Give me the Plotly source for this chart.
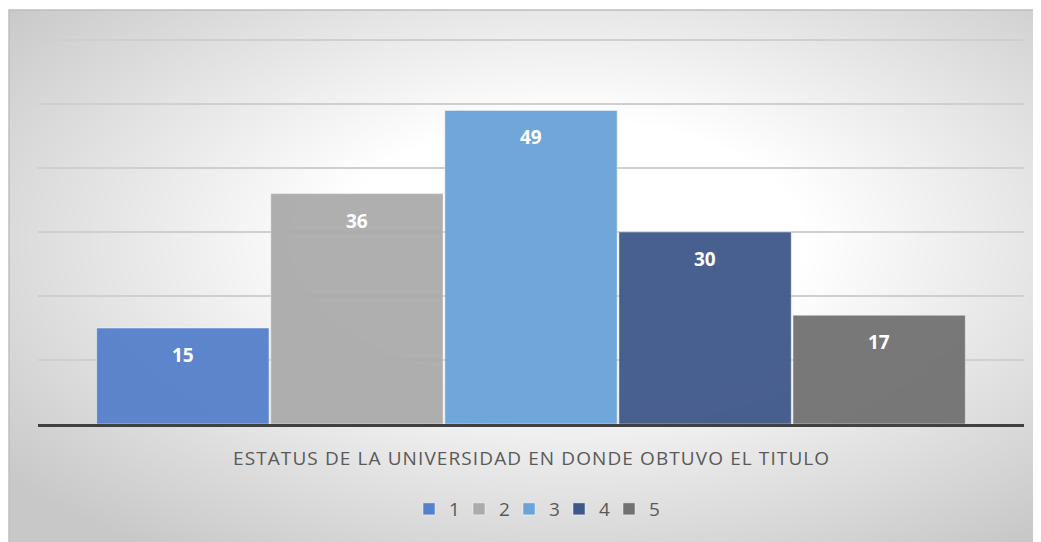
import plotly.graph_objects as go
import zlib, struct, base64, math

# ---- data ----
series_names = ["1", "2", "3", "4", "5"]
values = [15, 36, 49, 30, 17]
colors = ["#5580CA", "#ABABAB", "#69A3D9", "#3F588A", "#727272"]
axis_title = "ESTATUS DE LA UNIVERSIDAD EN DONDE OBTUVO EL TITULO"

OFF = 8  # page body margin
W, H = 1041, 542
YMAX = 60.625
L, T = 38 - OFF, 28
PW, PH = 986, 388
R, B = W - L - PW, H - T - PH

def py(ref_y):  # reference pixel y -> paper coord
    return (T + PH - (ref_y - OFF)) / PH

def px(ref_x):
    return (ref_x - OFF - L) / PW

# ---- radial gradient background as PNG ----
def make_png(w, h, pix):
    raw = b"".join(b"\x00" + bytes(pix[y * w:(y + 1) * w]) for y in range(h))
    def chunk(tag, data):
        c = struct.pack(">I", len(data)) + tag + data
        return c + struct.pack(">I", zlib.crc32(tag + data) & 0xffffffff)
    return (b"\x89PNG\r\n\x1a\n" + chunk(b"IHDR", struct.pack(">IIBBBBB", w, h, 8, 0, 0, 0, 0))
            + chunk(b"IDAT", zlib.compress(raw, 9)) + chunk(b"IEND", b""))

bx0, by0, bx1, by1 = 9, 10, 1045, 546  # reference pixel extents
bw, bh = bx1 - bx0, by1 - by0
s = 2
iw, ih = bw // s, bh // s
cx, cy = 570 - bx0, 240 - by0
pix = []
for j in range(ih):
    for i in range(iw):
        dx = (i * s - cx) / 520.0
        dy = (j * s - cy) / 270.0
        d = math.sqrt(dx * dx + dy * dy)
        t = min(1.0, max(0.0, (d - 0.45) / 0.95))
        pix.append(int(round(255 - 55 * t)))
img = "data:image/png;base64," + base64.b64encode(make_png(iw, ih, pix)).decode()

fig = go.Figure()
for i, (n, v, c) in enumerate(zip(series_names, values, colors)):
    fig.add_trace(go.Bar(
        x=[i + 1], y=[v], name=n, width=0.99,
        marker=dict(color=c, opacity=0.95, line=dict(color="rgba(255,255,255,0.45)", width=1)),
        hoverinfo="skip"))
    fig.add_annotation(x=i + 1, y=v, xref="x", yref="y", text=f"<b>{v}</b>", showarrow=False,
                       yshift=-27, font=dict(color="white", size=19, family="Open Sans"))

fig.add_annotation(x=0.5, y=py(458), xref="paper", yref="paper",
                   text=f'<span style="letter-spacing:1.1px">{axis_title}</span>',
                   showarrow=False, font=dict(color="#595959", size=19, family="Open Sans"),
                   xanchor="center", yanchor="middle")

fig.add_layout_image(dict(source=img, xref="paper", yref="paper",
                          x=px(bx0), y=py(by0), sizex=bw / PW, sizey=bh / PH,
                          xanchor="left", yanchor="top", sizing="stretch", layer="below"))

fig.add_shape(type="rect", xref="paper", yref="paper",
              x0=px(bx0), x1=px(bx1), y0=py(by0), y1=py(by1),
              line=dict(color="#BFBFBF", width=1.5), layer="below")

fig.update_layout(
    width=W, height=H, margin=dict(l=L, r=R, t=T, b=B),
    paper_bgcolor="white", plot_bgcolor="rgba(0,0,0,0)",
    barmode="overlay", showlegend=True,
    legend=dict(orientation="h", x=px(534), xanchor="center", y=py(509), yanchor="middle",
                font=dict(color="#595959", size=19, family="Open Sans"), bgcolor="rgba(0,0,0,0)",
                traceorder="normal", itemwidth=30, entrywidth=5, entrywidthmode="pixels"),
    xaxis=dict(range=[0.168, 5.832], showticklabels=False, showgrid=False, zeroline=False,
               showline=True, linecolor="#404040", linewidth=3, ticks=""),
    yaxis=dict(range=[0, YMAX], tick0=0, dtick=10, showticklabels=False, showgrid=True,
               gridcolor="#CFCFCF", gridwidth=1.5, zeroline=False, showline=False, ticks=""),
)

fig.write_html("out.html")
